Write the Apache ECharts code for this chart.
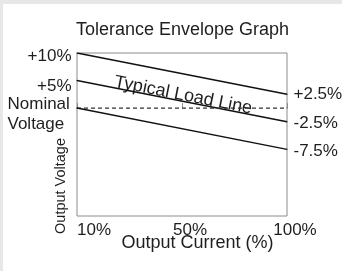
<!DOCTYPE html>
<html>
<head>
<meta charset="UTF-8">
<title>Tolerance Envelope Graph</title>
<script src="https://cdn.jsdelivr.net/npm/echarts@6/dist/echarts.min.js"></script>
<style>
    body { margin: 0; background: #e6e7e9; }
    #chart { position: absolute; left: 3px; top: 4px; width: 339px; height: 267px; background: #fff; }
</style>
</head>
<body>
<div id="chart"></div>
<script>
    var currentLabels = ['10%', '50%', '100%'];
    // envelope lines: value at 10% load, (none at 50%), value at 100% load
    var upperLimit = [10, null, 2.5];
    var loadLine = [5, null, -2.5];
    var nominal = [0, null, 0];
    var lowerLimit = [0, null, -7.5];
    var startLabels = ['+10%', '+5%', 'Nominal\nVoltage', ''];
    var endLabels = ['+2.5%', '-2.5%', '', '-7.5%'];
    var noteText = 'Typical Load Line';

    var font = '"Liberation Sans", Arial, sans-serif';
    var ink = '#1e1e1e';
    var startShift = [3, 6, 6, 0];
    var endShift = [0, 1, 0, 2];

    var chart = echarts.init(document.getElementById('chart'));

    function endLabel(text, side, dy) {
        var lab = {
            show: text !== '',
            position: side,
            distance: side === 'left' ? 5 : 6,
            offset: [0, dy],
            fontFamily: font, fontSize: 17, color: ink,
            formatter: text
        };
        if (text.indexOf('\n') >= 0) {
            // two-line label, lines flush left inside a right-anchored block
            lab.formatter = text.split('\n').map(function (t) { return '{w|' + t + '}'; }).join('\n');
            lab.rich = { w: { width: 64, align: 'left', lineHeight: 19.5, fontSize: 17, fontFamily: font, color: ink } };
        }
        return lab;
    }

    function lineSeries(values, i, dashed) {
        var data = values.map(function (v, j) {
            if (v === null) return '-';
            if (j === 0) return { value: v, label: endLabel(startLabels[i], 'left', startShift[i]) };
            return { value: v, label: endLabel(endLabels[i], 'right', endShift[i]) };
        });
        var color = dashed ? '#333' : '#111';
        return {
            type: 'line',
            data: data,
            connectNulls: true,
            symbol: 'circle',
            symbolSize: 1,
            showSymbol: true,
            showAllSymbol: true,
            silent: true,
            itemStyle: { color: color },
            lineStyle: dashed
                ? { color: color, width: 1.3, type: [4, 3] }
                : { color: color, width: 1.5 }
        };
    }

    chart.setOption({
        animation: false,
        title: {
            text: 'Tolerance Envelope Graph',
            left: 68,
            top: 12,
            textStyle: { fontFamily: font, fontSize: 18, fontWeight: 'normal', color: ink }
        },
        grid: {
            left: 74, top: 49, right: 55, bottom: 55,
            outerBoundsMode: 'none',
            show: true, borderColor: '#8c8c8c', borderWidth: 1
        },
        xAxis: {
            type: 'category',
            data: currentLabels,
            boundaryGap: false,
            name: 'Output Current (%)',
            nameLocation: 'middle',
            nameGap: 18,
            nameMoveOverlap: false,
            nameTextStyle: { fontFamily: font, fontSize: 18, color: ink, padding: [0, 0, 0, 31] },
            axisLine: { show: false },
            axisTick: { show: true, inside: true, length: 5, interval: 0, lineStyle: { color: '#8c8c8c' } },
            axisLabel: {
                interval: 0,
                margin: 6,
                fontFamily: font, fontSize: 17, color: ink,
                formatter: function (v, i) { return '{c' + i + '|' + v + '}'; },
                rich: {
                    c0: { padding: [0, 0, 0, 34] },
                    c1: { padding: [0, 0, 0, 16] },
                    c2: { padding: [0, 0, 0, 16] }
                }
            }
        },
        yAxis: {
            type: 'value',
            min: -19.6,
            max: 10,
            name: 'Output Voltage',
            nameLocation: 'middle',
            nameRotate: 90,
            nameGap: 9,
            nameMoveOverlap: false,
            nameTextStyle: { fontFamily: font, fontSize: 14.5, color: ink, padding: [0, 103, 0, 0] },
            splitLine: { show: false },
            axisLine: { show: false },
            axisTick: { show: false },
            axisLabel: { show: false }
        },
        series: [
            lineSeries(upperLimit, 0),
            lineSeries(loadLine, 1),
            lineSeries(nominal, 2, true),
            lineSeries(lowerLimit, 3)
        ]
    });

    // label the load line along its own slope
    var a = chart.convertToPixel({ gridIndex: 0 }, [0, loadLine[0]]);
    var b = chart.convertToPixel({ gridIndex: 0 }, [2, loadLine[2]]);
    var ang = Math.atan2(b[1] - a[1], b[0] - a[0]);
    chart.setOption({
        graphic: [{
            type: 'text',
            x: (a[0] + b[0]) / 2,
            y: (a[1] + b[1]) / 2,
            rotation: -ang,
            silent: true,
            style: {
                text: noteText, x: 0, y: 3,
                align: 'center', verticalAlign: 'bottom',
                font: '18px ' + font, fill: ink
            }
        }]
    });
</script>
</body>
</html>
